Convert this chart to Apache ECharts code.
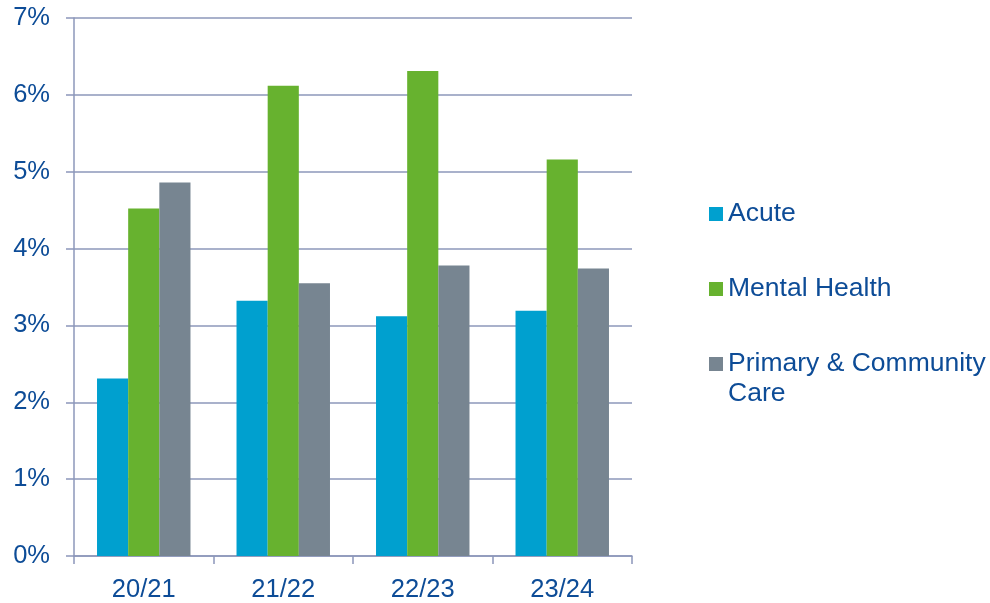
<!DOCTYPE html>
<html>
<head>
<meta charset="utf-8">
<script src="https://cdn.jsdelivr.net/npm/echarts@6/dist/echarts.min.js"></script>
<style>
  html, body { margin: 0; padding: 0; background: #fff; }
  #chart { width: 990px; height: 603px; }
</style>
</head>
<body>
<div id="chart"></div>
<script>
// Financial years on the category axis
const years = ['20/21', '21/22', '22/23', '23/24'];

// Percentage values per service area
const acute = [2.31, 3.32, 3.12, 3.19];
const mentalHealth = [4.52, 6.12, 6.31, 5.16];
const primaryCommunity = [4.86, 3.55, 3.78, 3.74];

// Value axis range (percent)
const yMin = 0;
const yMax = 7;
const yStep = 1;

const textColor = '#0D4C97';
const lineColor = '#8C97BA';
const font = 'Liberation Sans, Arial, sans-serif';

const seriesDefs = [
  { name: 'Acute', data: acute, color: '#00A0CF' },
  { name: 'Mental Health', data: mentalHealth, color: '#67B22F' },
  { name: 'Primary & Community Care', data: primaryCommunity, color: '#778591' }
];

const legendBase = {
  orient: 'vertical',
  left: 709,
  padding: 0,
  itemWidth: 14,
  itemHeight: 14,
  icon: 'rect',
  selectedMode: false,
  textStyle: { color: textColor, fontSize: 26.5, fontFamily: font, lineHeight: 30 }
};

const chart = echarts.init(document.getElementById('chart'), null, { renderer: 'canvas' });
chart.setOption({
  animation: false,
  backgroundColor: '#ffffff',
  grid: { left: 74, right: 358, top: 18, bottom: 44, containLabel: false },
  legend: [
    Object.assign({}, legendBase, { top: 199, data: ['Acute'] }),
    Object.assign({}, legendBase, { top: 274, data: ['Mental Health'] }),
    // leading blank line keeps the marker level with the first text line
    Object.assign({}, legendBase, {
      top: 319,
      data: ['Primary & Community Care'],
      formatter: () => '\u00a0\nPrimary & Community\nCare'
    })
  ],
  xAxis: {
    type: 'category',
    data: years,
    axisLine: { show: true, lineStyle: { color: lineColor, width: 1.5 } },
    axisTick: { show: true, length: 8, lineStyle: { color: lineColor, width: 1.5 } },
    axisLabel: { color: textColor, fontSize: 25.5, fontFamily: font, margin: 21 },
    splitLine: { show: false }
  },
  yAxis: {
    type: 'value',
    min: yMin,
    max: yMax,
    interval: yStep,
    axisLine: { show: true, lineStyle: { color: lineColor, width: 1.5 } },
    axisTick: { show: true, length: 8, lineStyle: { color: lineColor, width: 1.5 } },
    axisLabel: {
      color: textColor, fontSize: 25.5, fontFamily: font, margin: 24,
      formatter: v => v + '%'
    },
    splitLine: { show: true, lineStyle: { color: lineColor, width: 1.5 } }
  },
  series: seriesDefs.map(s => ({
    name: s.name,
    type: 'bar',
    data: s.data,
    barGap: '0%',
    barCategoryGap: '33%',
    itemStyle: { color: s.color },
    emphasis: { disabled: true }
  }))
});
</script>
</body>
</html>
